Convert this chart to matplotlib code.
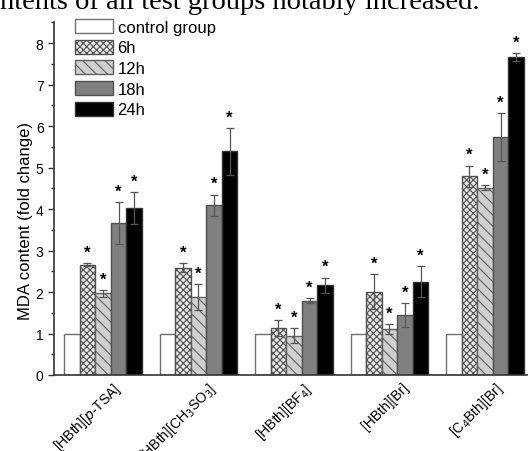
import numpy as np
import matplotlib
matplotlib.use("Agg")
import matplotlib.pyplot as plt
import matplotlib.transforms as mtransforms

plt.rcParams['font.family'] = ['Liberation Sans', 'DejaVu Sans']
plt.rcParams['hatch.linewidth'] = 0.8

compounds = ["[HBth][$p$-TSA]", "[HBth][CH$_3$SO$_3$]", "[HBth][BF$_4$]",
             "[HBth][Br]", "[C$_4$Bth][Br]"]
groups = ["control group", "6h", "12h", "18h", "24h"]

control = [1.0, 1.0, 1.0, 1.0, 1.0]
h6 = [2.66, 2.59, 1.14, 2.01, 4.79]
h12 = [1.97, 1.88, 0.95, 1.11, 4.52]
h18 = [3.66, 4.09, 1.79, 1.45, 5.74]
h24 = [4.03, 5.39, 2.16, 2.25, 7.67]

err6 = [0.03, 0.10, 0.19, 0.42, 0.26]
err12 = [0.08, 0.31, 0.19, 0.11, 0.05]
err18 = [0.50, 0.26, 0.06, 0.29, 0.58]
err24 = [0.38, 0.57, 0.19, 0.37, 0.10]

values = [control, h6, h12, h18, h24]
errors = [None, err6, err12, err18, err24]
faces = ["white", "#e6e6e6", "#cfcfcf", "#808080", "black"]
hatches = [None, "xxxxx", "\\\\\\", None, None]
edges = ["#707070", "#505050", "#606060", "#505050", "#333333"]

fig = plt.figure(figsize=(5.28, 4.52), dpi=100)
ax = fig.add_axes([54/528, 1-376/452, 473/528, 353/452])

x = np.arange(len(compounds))
w = 0.163
for i in range(5):
    pos = x + (i - 2) * w
    ax.bar(pos, values[i], w, color=faces[i], edgecolor=edges[i],
           hatch=hatches[i], linewidth=1.0, label=groups[i], zorder=2)
    if errors[i] is not None:
        ax.errorbar(pos, values[i], yerr=errors[i], fmt="none", ecolor="#555555",
                    elinewidth=0.9, capsize=3, capthick=0.9, zorder=3)
        for p, v, e in zip(pos, values[i], errors[i]):
            ax.text(p, v + e + 0.08, "*", ha="center", va="bottom",
                    fontsize=12, fontweight="bold")

ax.set_xlim(-0.513, 4.44)
ax.set_ylim(0, 8.51)
ax.set_yticks(np.arange(0, 9, 1))
ax.set_yticks(np.arange(0, 8.6, 0.5), minor=True)
ax.tick_params(axis="y", which="major", length=4, width=1, labelsize=10, color="#333333")
ax.tick_params(axis="y", which="minor", length=2.5, width=1, color="#333333")
ax.set_xticks(x)
ax.set_xticklabels(compounds, rotation=45, ha="right", fontsize=10)
ax.tick_params(axis="x", length=0, pad=3)
offset = mtransforms.ScaledTranslation(22/100, 0, fig.dpi_scale_trans)
for lab in ax.get_xticklabels():
    lab.set_transform(lab.get_transform() + offset)

for s in ["top", "right"]:
    ax.spines[s].set_visible(False)
ax.spines["left"].set_linewidth(1.2)
ax.spines["bottom"].set_linewidth(1.2)
ax.spines["left"].set_color("#333333")
ax.spines["bottom"].set_color("#333333")

ax.set_ylabel("MDA content (fold change)", fontsize=12)
ax.yaxis.set_label_coords(-0.045, 0.44)

ax.legend(loc="upper left", bbox_to_anchor=(21/473, 1 + 3/353), frameon=False,
          fontsize=12, handlelength=2.3, handleheight=0.9, labelspacing=0.3,
          handletextpad=0.25, borderaxespad=0, borderpad=0)

fig.text(0, 1 - 9/452, "ntents of all test groups notably increased.",
         family="Liberation Serif", fontsize=20.5, va="baseline", ha="left")

fig.savefig("out.png", dpi=100)
